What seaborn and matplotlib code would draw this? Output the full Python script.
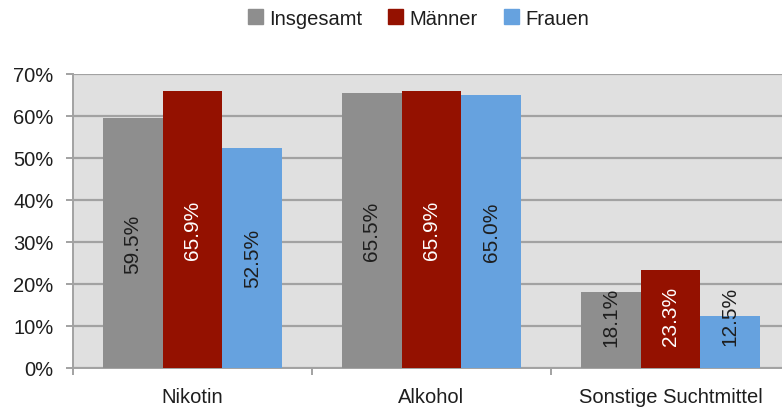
import matplotlib
matplotlib.use("Agg")
import matplotlib.pyplot as plt
import matplotlib.patches as mpatches
import seaborn as sns
import pandas as pd

# Anteil der Konsumenten je Suchtmittel (in Prozent)
categories = ["Nikotin", "Alkohol", "Sonstige Suchtmittel"]
groups = ["Insgesamt", "Männer", "Frauen"]
insgesamt = [59.5, 65.5, 18.1]
maenner = [65.9, 65.9, 23.3]
frauen = [52.5, 65.0, 12.5]
y_ticks = [0, 10, 20, 30, 40, 50, 60, 70]
y_tick_labels = ["0%", "10%", "20%", "30%", "40%", "50%", "60%", "70%"]

colors = {"Insgesamt": "#8e8e8e", "Männer": "#941100", "Frauen": "#66a2df"}
text_colors = {"Insgesamt": "#1e1e1e", "Männer": "#ffffff", "Frauen": "#1e1e1e"}

df = pd.DataFrame({
    "Kategorie": categories * 3,
    "Gruppe": [g for g in groups for _ in categories],
    "Wert": insgesamt + maenner + frauen,
})

sns.set_theme(style="white")
plt.rcParams["font.family"] = ["Liberation Sans", "DejaVu Sans"]

fig = plt.figure(figsize=(7.82, 4.10), dpi=100)
ax = fig.add_axes([73 / 782, 41 / 410, (790 - 73) / 782, (369 - 75) / 410])
ax.set_facecolor("#e0e0e0")

sns.barplot(data=df, x="Kategorie", y="Wert", hue="Gruppe", order=categories,
            hue_order=groups, palette=colors, width=0.75, gap=0, saturation=1,
            linewidth=0, legend=False, ax=ax, zorder=3)

ax.set_ylim(0, 70)
ax.set_xlim(-0.5, 2.5)
ax.set_yticks(y_ticks)
ax.set_yticklabels(y_tick_labels)
ax.yaxis.grid(True, color="#a2a2a2", linewidth=1.6, zorder=1)
ax.set_axisbelow(True)
ax.set_xlabel("")
ax.set_ylabel("")

# Werte als senkrechte Beschriftung in den Balken
for container, g in zip(ax.containers, groups):
    for bar in container:
        v = bar.get_height()
        xc = bar.get_x() + bar.get_width() / 2
        yc = max(v / 2, 12.4)
        ax.text(xc, yc, f"{v:.1f}%", rotation=90, ha="center", va="center",
                fontsize=15, color=text_colors[g], zorder=5)

for side in ["top", "right"]:
    ax.spines[side].set_visible(False)
for side in ["left", "bottom"]:
    ax.spines[side].set_color("#a2a2a2")
    ax.spines[side].set_linewidth(1.4)

ax.tick_params(axis="y", which="major", left=True, length=5, width=1.4,
               color="#a2a2a2", pad=9, labelsize=14.5, labelcolor="#1e1e1e")
ax.tick_params(axis="x", which="major", bottom=False, pad=8,
               labelsize=14.5, labelcolor="#1e1e1e")
ax.set_xticks([-0.5, 0.5, 1.5], minor=True)
ax.tick_params(axis="x", which="minor", bottom=True, length=5, width=1.4,
               color="#a2a2a2")

handles = [mpatches.Patch(color=colors[g], label=g) for g in groups]
fig.legend(handles=handles, loc="center", bbox_to_anchor=(0.535, 0.953), ncol=3,
           frameon=False, fontsize=14.5, handlelength=0.75, handleheight=0.75,
           handletextpad=0.3, columnspacing=1.3, labelcolor="#1e1e1e")

fig.savefig("out.png", dpi=100)
